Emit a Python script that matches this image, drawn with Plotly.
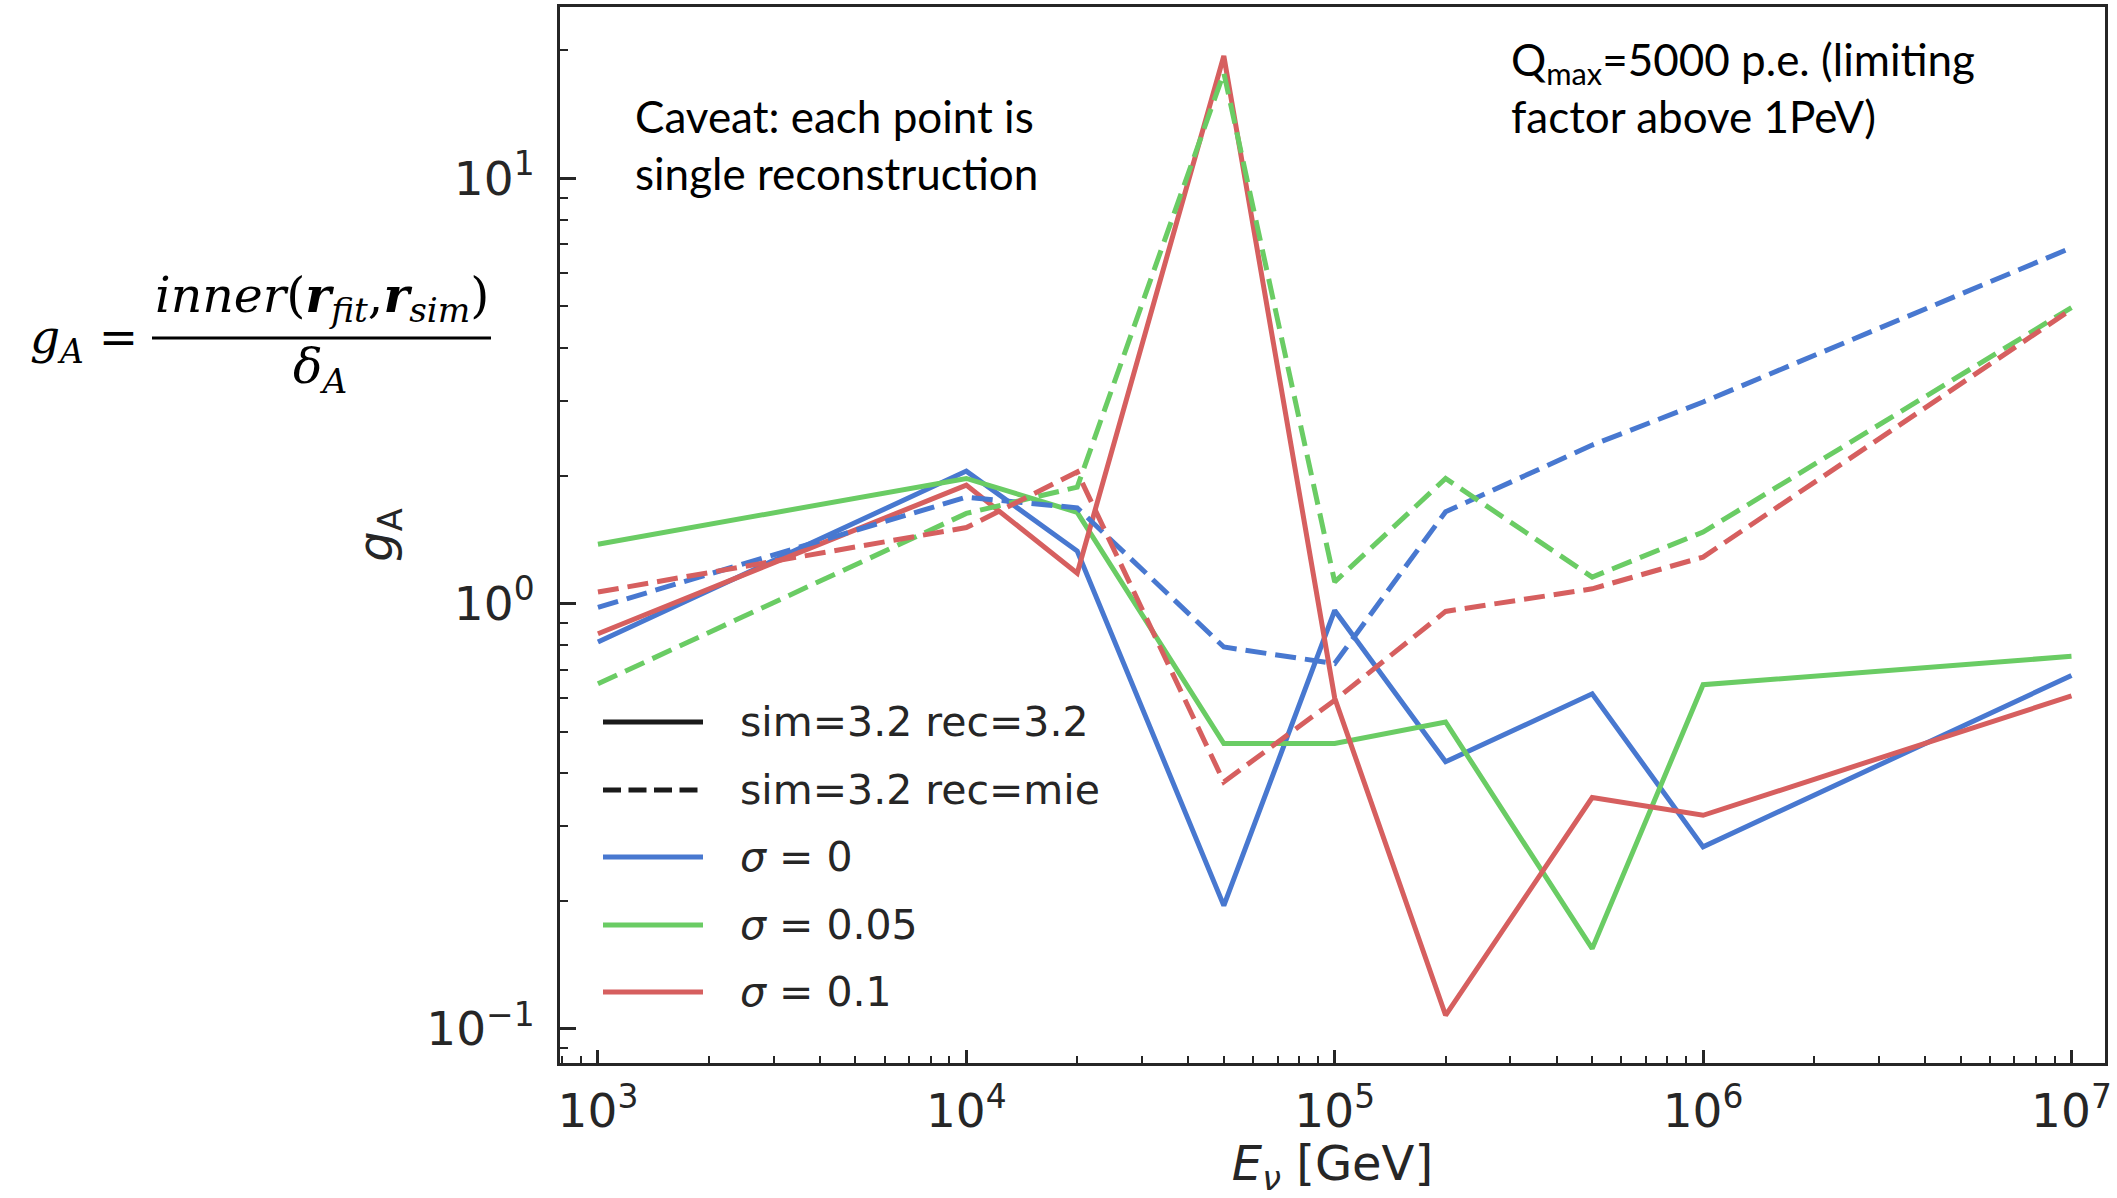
import plotly.graph_objects as go

# Neutrino energies (GeV) of the single-event reconstructions
energy_gev = [1e3, 1e4, 2e4, 5e4, 1e5, 2e5, 5e5, 1e6, 1e7]

# g_A with simulation ice = 3.2 and reconstruction ice = 3.2
g_rec32_sigma0 = [0.813, 2.05, 1.33, 0.195, 0.964, 0.425, 0.614, 0.268, 0.678]
g_rec32_sigma005 = [1.38, 1.97, 1.64, 0.469, 0.469, 0.527, 0.1545, 0.645, 0.752]
g_rec32_sigma01 = [0.85, 1.90, 1.18, 19.4, 0.60, 0.1077, 0.35, 0.318, 0.607]

# g_A with simulation ice = 3.2 and reconstruction ice = mie
g_recmie_sigma0 = [0.98, 1.78, 1.68, 0.791, 0.723, 1.645, 2.36, 2.98, 6.87]
g_recmie_sigma005 = [0.648, 1.63, 1.88, 17.7, 1.125, 1.97, 1.155, 1.474, 4.97]
g_recmie_sigma01 = [1.065, 1.51, 2.04, 0.381, 0.593, 0.959, 1.084, 1.287, 4.92]

sigma_labels = ["<i>σ</i> = 0", "<i>σ</i> = 0.05", "<i>σ</i> = 0.1"]
style_labels = ["sim=3.2 rec=3.2", "sim=3.2 rec=mie"]

x_tick_values = [1e3, 1e4, 1e5, 1e6, 1e7]
x_tick_text = ["10<sup>3</sup>", "10<sup>4</sup>", "10<sup>5</sup>", "10<sup>6</sup>", "10<sup>7</sup>"]
y_tick_values = [0.1, 1, 10]
y_tick_text = ["10<sup>−1</sup>", "10<sup>0</sup>", "10<sup>1</sup>"]

BLUE, GREEN, RED = "#4878D0", "#6ACC64", "#D65F5F"
INK = "#262626"
DASH = "21px,9px"
LW = 5

W, H = 2117, 1198
L, R, T, B = 560, 2105, 7, 1063


def px(x):
    return (x - L) / (R - L)


def py(y):
    return (B - y) / (B - T)


fig = go.Figure()

solid_sets = [(g_rec32_sigma0, BLUE), (g_rec32_sigma005, GREEN), (g_rec32_sigma01, RED)]
dashed_sets = [(g_recmie_sigma0, BLUE), (g_recmie_sigma005, GREEN), (g_recmie_sigma01, RED)]

for (vals, col), lab in zip(solid_sets, sigma_labels):
    fig.add_trace(go.Scatter(x=energy_gev, y=vals, mode="lines", name=lab + ", " + style_labels[0],
                             line=dict(color=col, width=LW), showlegend=False))
for (vals, col), lab in zip(dashed_sets, sigma_labels):
    fig.add_trace(go.Scatter(x=energy_gev, y=vals, mode="lines", name=lab + ", " + style_labels[1],
                             line=dict(color=col, width=LW, dash=DASH), showlegend=False))

minor_vals = [m * 10 ** d for d in range(-2, 8) for m in range(2, 10)]

axis_common = dict(
    type="log", showgrid=False, zeroline=False, automargin=False,
    showline=True, linecolor=INK, linewidth=3, mirror=True,
    ticks="inside", tickcolor=INK, tickwidth=2.5,
    tickfont=dict(family="DejaVu Sans", size=47, color=INK),
)

fig.update_layout(
    width=W, height=H, autosize=False,
    paper_bgcolor="white", plot_bgcolor="white",
    margin=dict(l=L, r=W - R, t=T, b=H - B, pad=0),
    font=dict(family="DejaVu Sans", color=INK),
    xaxis=dict(
        **axis_common,
        range=[2.897, 7.091],
        tickmode="array", tickvals=x_tick_values, ticktext=x_tick_text,
        ticklen=13, ticklabelstandoff=5,
        minor=dict(tickmode="array", tickvals=minor_vals, ticks="inside", ticklen=7,
                   tickwidth=1.8, tickcolor=INK),
        title=dict(text="<i>E</i><sub><i>ν</i></sub> [GeV]", standoff=25,
                   font=dict(family="DejaVu Sans", size=48, color=INK)),
    ),
    yaxis=dict(
        **axis_common,
        range=[-1.08, 1.403],
        tickmode="array", tickvals=y_tick_values, ticktext=y_tick_text,
        ticklen=16, ticklabelstandoff=13,
        minor=dict(tickmode="array", tickvals=minor_vals, ticks="inside", ticklen=8,
                   tickwidth=1.8, tickcolor=INK),
        title=dict(text="<i>g</i><sub>A</sub>", standoff=19,
                   font=dict(family="DejaVu Sans", size=48, color=INK)),
    ),
)

annotations = []
shapes = []

# notes inside the axes
annotations.append(dict(
    text="Caveat: each point is<br>single reconstruction",
    x=px(633), y=py(144), xref="paper", yref="paper", xanchor="left", yanchor="middle",
    align="left", showarrow=False, font=dict(family="Lato", size=44, color="black")))
annotations.append(dict(
    text="Q<sub>max</sub>=5000 p.e. (limiting<br>factor above 1PeV)",
    x=px(1509), y=py(88), xref="paper", yref="paper", xanchor="left", yanchor="middle",
    align="left", showarrow=False, font=dict(family="Lato", size=44, color="black")))

# definition of g_A, left of the axes
serif = dict(family="DejaVu Serif", size=49, color="black")
annotations.append(dict(
    text="<i>g</i><sub><i>A</i></sub> =", x=px(140), y=py(340), xref="paper", yref="paper",
    xanchor="right", yanchor="middle", showarrow=False,
    font=dict(family="DejaVu Serif", size=47, color="black")))
annotations.append(dict(
    text="<i>inner</i>(<b><i>r</i></b><sub><i>fit</i></sub>,<b><i>r</i></b><sub><i>sim</i></sub>)",
    x=px(322), y=py(298), xref="paper", yref="paper",
    xanchor="center", yanchor="middle", showarrow=False, font=serif))
annotations.append(dict(
    text="<i>δ</i><sub><i>A</i></sub>", x=px(320), y=py(369), xref="paper", yref="paper",
    xanchor="center", yanchor="middle", showarrow=False, font=serif))
shapes.append(dict(type="line", xref="paper", yref="paper",
                   x0=px(152), x1=px(491), y0=py(338), y1=py(338),
                   line=dict(color="black", width=3)))

# legend
legend_rows = [
    (style_labels[0], "#1a1a1a", "solid"),
    (style_labels[1], "#1a1a1a", "18px,7.5px"),
    (sigma_labels[0], BLUE, "solid"),
    (sigma_labels[1], GREEN, "solid"),
    (sigma_labels[2], RED, "solid"),
]
row_y = [722, 790, 857, 925, 992]
for (lab, col, dash), yy in zip(legend_rows, row_y):
    shapes.append(dict(type="line", xref="paper", yref="paper",
                       x0=px(603), x1=px(703), y0=py(yy), y1=py(yy),
                       line=dict(color=col, width=LW, dash=dash)))
    annotations.append(dict(
        text=lab, x=px(738), y=py(yy), xref="paper", yref="paper",
        xanchor="left", yanchor="middle", showarrow=False,
        font=dict(family="DejaVu Sans", size=41, color=INK)))

fig.update_layout(annotations=annotations, shapes=shapes)

fig.write_html("out.html")
